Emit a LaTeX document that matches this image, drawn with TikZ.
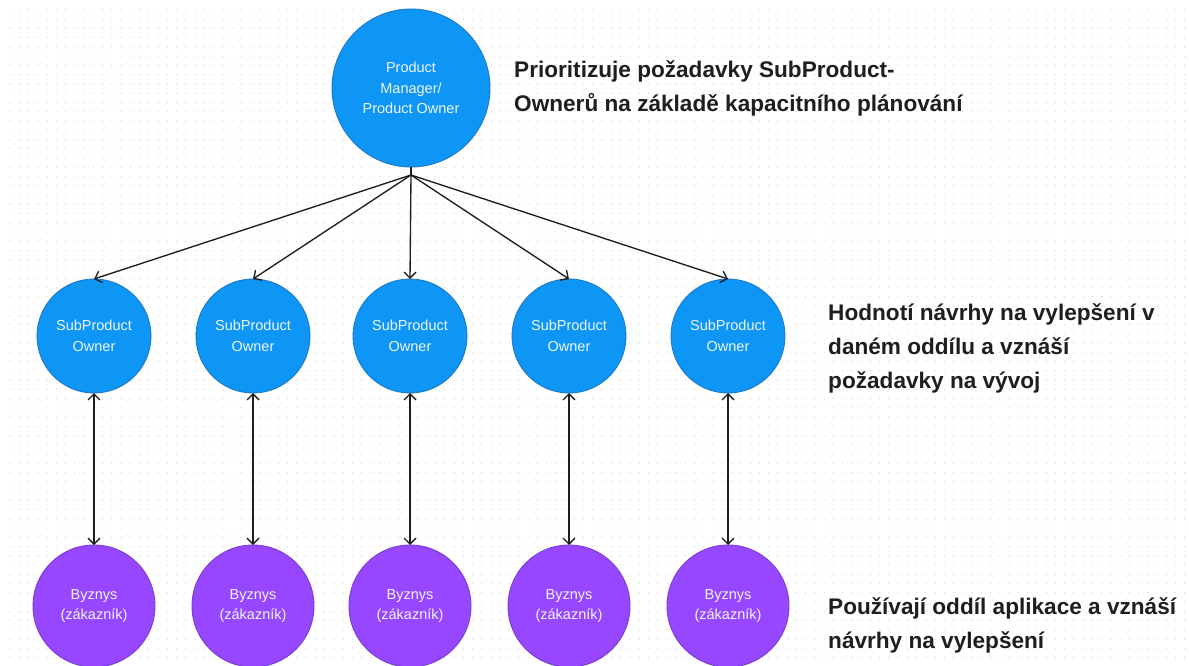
\documentclass[tikz,border=0pt]{standalone}
\usepackage{fontspec}
\setmainfont{Liberation Sans}
\usetikzlibrary{arrows.meta}

\definecolor{pmblue}{HTML}{0D96F6}
\definecolor{pmblueedge}{HTML}{1A78C8}
\definecolor{bzpurple}{HTML}{9747FF}
\definecolor{bzpurpleedge}{HTML}{7A3BD0}
\definecolor{inktext}{HTML}{1E1E1E}
\definecolor{lighttext}{HTML}{EEF5FF}
\definecolor{griddot}{HTML}{DCDCDC}

\tikzset{
  rolecircle/.style={circle, draw, line width=0.9pt, inner sep=0pt, outer sep=0pt,
    text=lighttext, align=center, font={\fontsize{14.5}{20.5}\selectfont}},
  leadcircle/.style={rolecircle, fill=pmblue, draw=pmblueedge, minimum size=158pt},
  subcircle/.style={rolecircle, fill=pmblue, draw=pmblueedge, minimum size=114pt},
  bizcircle/.style={rolecircle, fill=bzpurple, draw=bzpurpleedge, minimum size=122pt},
  note/.style={anchor=north west, inner sep=0pt, align=left, text=inktext,
    font={\bfseries\fontsize{22.6}{34}\selectfont}},
  link/.style={draw=inktext, line width=1.35pt},
  tip/.style={-{Straight Barb[length=6pt,width=12pt]}},
  bothtips/.style={{Straight Barb[length=6pt,width=12pt]}-{Straight Barb[length=6pt,width=12pt]}},
  dotrow/.style={draw=griddot, line width=1.5pt, line cap=round,
    dash pattern=on 0pt off 9.25pt}
}

\begin{document}
\begin{tikzpicture}[x=1pt, y=-1pt]
  % canvas and dotted grid: each row is a dashed line of round dots
  \useasboundingbox (0,0) rectangle (1189,666);
  \fill[white] (0,0) rectangle (1189,666);
  \foreach \j in {0,...,71}{
    \draw[dotrow] (10,10+9.25*\j) -- (1189,10+9.25*\j);
  }

  % lead role
  \node[leadcircle] (lead) at (411,88) {Product\\Manager/\\Product Owner};
  \coordinate (hub) at (411,175);

  % sub-product owners
  \node[subcircle] (s1) at (94,336) {SubProduct\\Owner};
  \node[subcircle] (s2) at (253,336) {SubProduct\\Owner};
  \node[subcircle] (s3) at (410,336) {SubProduct\\Owner};
  \node[subcircle] (s4) at (569,336) {SubProduct\\Owner};
  \node[subcircle] (s5) at (728,336) {SubProduct\\Owner};

  % business users
  \node[bizcircle] (b1) at (94,606) {Byznys\\(zákazník)};
  \node[bizcircle] (b2) at (253,606) {Byznys\\(zákazník)};
  \node[bizcircle] (b3) at (410,606) {Byznys\\(zákazník)};
  \node[bizcircle] (b4) at (569,606) {Byznys\\(zákazník)};
  \node[bizcircle] (b5) at (728,606) {Byznys\\(zákazník)};

  % connectors
  \draw[link] (lead.south) -- (hub);
  \foreach \s in {s1,s2,s3,s4,s5}{
    \draw[link, tip] (hub) -- (\s.north);
  }
  \foreach \n in {1,...,5}{
    \draw[link, bothtips] (s\n.south) -- (b\n.north);
  }

  % descriptions
  \node[note] (n1) at (514,60) {Prioritizuje požadavky SubProduct-\\Ownerů na základě kapacitního plánování};
  \node[note] (n2) at (828,303) {Hodnotí návrhy na vylepšení v\\daném oddílu a vznáší\\požadavky na vývoj};
  \node[note] (n3) at (828,597) {Používají oddíl aplikace a vznáší\\návrhy na vylepšení};
\end{tikzpicture}
\end{document}
